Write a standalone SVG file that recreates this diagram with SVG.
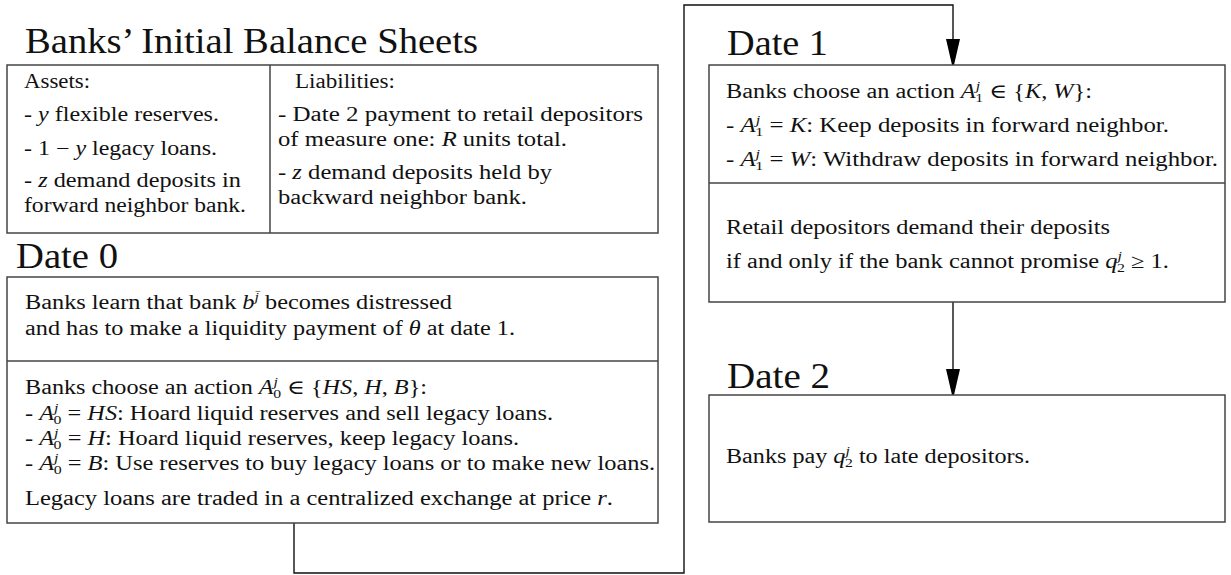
<svg xmlns="http://www.w3.org/2000/svg" width="1231" height="575" viewBox="0 0 1231 575">
<style>
.t{font-family:"Liberation Serif","DejaVu Serif",serif;font-size:20px;fill:#111}
.h{font-family:"Liberation Serif","DejaVu Serif",serif;font-size:35px;fill:#111}
.i{font-style:italic}
.s{font-size:13px}
.box{fill:#fff;stroke:#444;stroke-width:1.5}
.ln{fill:none;stroke:#444;stroke-width:1.5}
.con{fill:none;stroke:#111;stroke-width:1.4}
</style>
<defs>
<marker id="arr" markerWidth="26" markerHeight="14" refX="26" refY="7" orient="auto" markerUnits="userSpaceOnUse" viewBox="0 0 26 14">
<path d="M0,0 L26,6 L26,8 L0,14 Z" fill="#000"/>
</marker>
</defs>
<g id="connectors">
<path class="con" d="M294,523 V573 H684 V5 H953 V65" marker-end="url(#arr)"/>
<path class="con" d="M953,302 V395" marker-end="url(#arr)"/>
</g>
<g id="balance">
<text class="h" x="25" y="53" textLength="453" lengthAdjust="spacingAndGlyphs">Banks’ Initial Balance Sheets</text>
<rect class="box" x="7" y="65" width="651" height="168"/>
<line class="ln" x1="270" y1="65" x2="270" y2="233"/>
<text class="t" x="24" y="88" textLength="66" lengthAdjust="spacingAndGlyphs">Assets:</text>
<text class="t" x="24" y="121" textLength="195" lengthAdjust="spacingAndGlyphs">- <tspan class="i">y</tspan> flexible reserves.</text>
<text class="t" x="24" y="155" textLength="193" lengthAdjust="spacingAndGlyphs">- 1 − <tspan class="i">y</tspan> legacy loans.</text>
<text class="t" x="24" y="187" textLength="217" lengthAdjust="spacingAndGlyphs">- <tspan class="i">z</tspan> demand deposits in</text>
<text class="t" x="24" y="212" textLength="222" lengthAdjust="spacingAndGlyphs">forward neighbor bank.</text>
<text class="t" x="295" y="88" textLength="100" lengthAdjust="spacingAndGlyphs">Liabilities:</text>
<text class="t" x="278" y="121" textLength="365" lengthAdjust="spacingAndGlyphs">- Date 2 payment to retail depositors</text>
<text class="t" x="278" y="146" textLength="289" lengthAdjust="spacingAndGlyphs">of measure one: <tspan class="i">R</tspan> units total.</text>
<text class="t" x="278" y="179" textLength="274" lengthAdjust="spacingAndGlyphs">- <tspan class="i">z</tspan> demand deposits held by</text>
<text class="t" x="278" y="204" textLength="249" lengthAdjust="spacingAndGlyphs">backward neighbor bank.</text>
</g>
<g id="date0">
<text class="h" x="16" y="268" textLength="102" lengthAdjust="spacingAndGlyphs">Date 0</text>
<rect class="box" x="7" y="277" width="651" height="246"/>
<line class="ln" x1="7" y1="361" x2="658" y2="361"/>
<text class="t" x="25" y="309" textLength="427" lengthAdjust="spacingAndGlyphs">Banks learn that bank <tspan class="i">b</tspan><tspan class="s i" dy="-8">j̄</tspan><tspan dy="8"> becomes distressed</tspan></text>
<text class="t" x="25" y="335" textLength="490" lengthAdjust="spacingAndGlyphs">and has to make a liquidity payment of <tspan class="i">θ</tspan> at date 1.</text>
<text class="t" x="25" y="394" textLength="402" lengthAdjust="spacingAndGlyphs">Banks choose an action <tspan class="i">A</tspan><tspan class="s i" dy="-8">j</tspan><tspan class="s" dx="-4" dy="12">0</tspan><tspan dy="-4"> ∈ {</tspan><tspan class="i">HS</tspan>, <tspan class="i">H</tspan>, <tspan class="i">B</tspan>}:</text>
<text class="t" x="25" y="420" textLength="528" lengthAdjust="spacingAndGlyphs">- <tspan class="i">A</tspan><tspan class="s i" dy="-8">j</tspan><tspan class="s" dx="-4" dy="12">0</tspan><tspan dy="-4"> = </tspan><tspan class="i">HS</tspan>: Hoard liquid reserves and sell legacy loans.</text>
<text class="t" x="25" y="445" textLength="494" lengthAdjust="spacingAndGlyphs">- <tspan class="i">A</tspan><tspan class="s i" dy="-8">j</tspan><tspan class="s" dx="-4" dy="12">0</tspan><tspan dy="-4"> = </tspan><tspan class="i">H</tspan>: Hoard liquid reserves, keep legacy loans.</text>
<text class="t" x="25" y="470" textLength="630" lengthAdjust="spacingAndGlyphs">- <tspan class="i">A</tspan><tspan class="s i" dy="-8">j</tspan><tspan class="s" dx="-4" dy="12">0</tspan><tspan dy="-4"> = </tspan><tspan class="i">B</tspan>: Use reserves to buy legacy loans or to make new loans.</text>
<text class="t" x="25" y="505" textLength="588" lengthAdjust="spacingAndGlyphs">Legacy loans are traded in a centralized exchange at price <tspan class="i">r</tspan>.</text>
</g>
<g id="date1">
<text class="h" x="727" y="55" textLength="101" lengthAdjust="spacingAndGlyphs">Date 1</text>
<rect class="box" x="709" y="65" width="516" height="237"/>
<line class="ln" x1="709" y1="183" x2="1225" y2="183"/>
<text class="t" x="726" y="98" textLength="366" lengthAdjust="spacingAndGlyphs">Banks choose an action <tspan class="i">A</tspan><tspan class="s i" dy="-8">j</tspan><tspan class="s" dx="-4" dy="12">1</tspan><tspan dy="-4"> ∈ {</tspan><tspan class="i">K</tspan>, <tspan class="i">W</tspan>}:</text>
<text class="t" x="726" y="132" textLength="443" lengthAdjust="spacingAndGlyphs">- <tspan class="i">A</tspan><tspan class="s i" dy="-8">j</tspan><tspan class="s" dx="-4" dy="12">1</tspan><tspan dy="-4"> = </tspan><tspan class="i">K</tspan>: Keep deposits in forward neighbor.</text>
<text class="t" x="726" y="166" textLength="492" lengthAdjust="spacingAndGlyphs">- <tspan class="i">A</tspan><tspan class="s i" dy="-8">j</tspan><tspan class="s" dx="-4" dy="12">1</tspan><tspan dy="-4"> = </tspan><tspan class="i">W</tspan>: Withdraw deposits in forward neighbor.</text>
<text class="t" x="726" y="234" textLength="384" lengthAdjust="spacingAndGlyphs">Retail depositors demand their deposits</text>
<text class="t" x="726" y="268" textLength="443" lengthAdjust="spacingAndGlyphs">if and only if the bank cannot promise <tspan class="i">q</tspan><tspan class="s i" dy="-8">j</tspan><tspan class="s" dx="-4" dy="12">2</tspan><tspan dy="-4"> ≥ 1.</tspan></text>
</g>
<g id="date2">
<text class="h" x="727" y="388" textLength="103" lengthAdjust="spacingAndGlyphs">Date 2</text>
<rect class="box" x="709" y="395" width="516" height="127"/>
<text class="t" x="726" y="463" textLength="304" lengthAdjust="spacingAndGlyphs">Banks pay <tspan class="i">q</tspan><tspan class="s i" dy="-8">j</tspan><tspan class="s" dx="-4" dy="12">2</tspan><tspan dy="-4"> to late depositors.</tspan></text>
</g>
</svg>
